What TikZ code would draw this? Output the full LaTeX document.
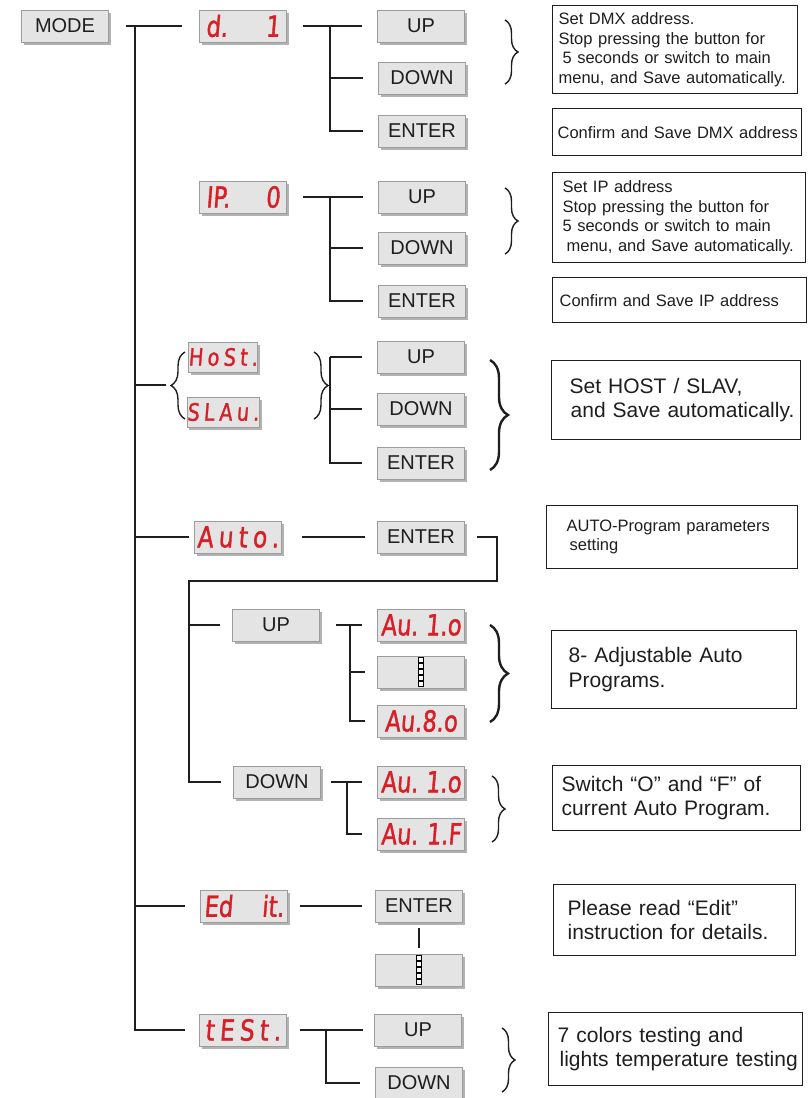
\documentclass[tikz,border=0pt]{standalone}
\usepackage{fontspec}
\setmainfont{Liberation Sans}
\newfontfamily\segfont[FakeStretch=0.78,FakeSlant=0.08,FakeBold=1.2]{DejaVu Sans}
\newfontfamily\segwide[FakeStretch=0.8,FakeSlant=0.08,FakeBold=1.2,LetterSpace=18]{DejaVu Sans}
\usetikzlibrary{shadows,decorations.pathreplacing}
\definecolor{btnfill}{HTML}{E4E4E4}
\definecolor{btnedge}{HTML}{9C9C9C}
\definecolor{segred}{HTML}{D61F26}
\definecolor{ink}{HTML}{1E1E1E}
\newcommand\lmar[1]{\hspace*{#1}}
\begin{document}
\begin{tikzpicture}[x=1pt,y=-1pt,
 btn/.style={draw=btnedge, line width=0.8pt, fill=btnfill, minimum width=87pt, minimum height=32pt, inner sep=0pt, text=ink, font=\fontsize{20}{24}\selectfont, drop shadow={shadow xshift=2.5pt, shadow yshift=-2.5pt, fill=black, opacity=0.3}},
 disp/.style={btn, text=segred, font=\segfont\fontsize{29}{30}\selectfont},
 dispw/.style={disp, font=\segwide\fontsize{29}{30}\selectfont},
 hsdisp/.style={disp, minimum width=67pt, minimum height=30pt, font=\segwide\fontsize{24}{26}\selectfont},
 conn/.style={draw=ink, line width=1.4pt},
 brc/.style={draw=ink, line width=1.4pt, decorate, decoration={brace, amplitude=#1}},
 info/.style={draw=ink, line width=1.3pt, anchor=north west, inner xsep=0pt, inner ysep=0pt, align=left, text=ink},
 small/.style={font=\fontsize{16.5}{19.5}\selectfont},
 big/.style={font=\fontsize{21}{24.5}\selectfont},
 dotsq/.style={draw=black, line width=0.9pt, fill=white, minimum size=5.2pt, inner sep=0pt}
]
\useasboundingbox (0,0) rectangle (807,1098);

% ---------- nodes ----------
\node[btn] (mode) at (65,26) {MODE};

\node[disp] (d1) at (243,26) {\makebox[74pt]{d.\hfill1}};
\node[btn] (d1up) at (421,26) {UP};
\node[btn] (d1down) at (422,78) {DOWN};
\node[btn] (d1enter) at (422,131) {ENTER};

\node[disp] (ip) at (243,197) {\makebox[74pt]{IP.\hfill0}};
\node[btn] (ipup) at (422,197) {UP};
\node[btn] (ipdown) at (422,248) {DOWN};
\node[btn] (ipenter) at (422,301) {ENTER};

\node[hsdisp] (host) at (223,357) {HoSt.};
\node[hsdisp] (slav) at (223,412) {SLAu.};
\node[btn] (hsup) at (421,357) {UP};
\node[btn] (hsdown) at (421,409) {DOWN};
\node[btn] (hsenter) at (421,463) {ENTER};

\node[dispw] (auto) at (238,537) {Auto.};
\node[btn] (autoenter) at (421,537) {ENTER};

\node[btn] (aup) at (276,625) {UP};
\node[btn] (adown) at (277,782) {DOWN};

\node[disp] (au1o) at (421,625) {\makebox[80pt]{Au.\hfill1.o}};
\node[btn] (audots) at (421,672) {};
\node[disp] (au8o) at (421,721) {Au.8.o};

\node[disp] (bu1o) at (421,782) {\makebox[80pt]{Au.\hfill1.o}};
\node[disp] (bu1f) at (421,834) {\makebox[80pt]{Au.\hfill1.F}};

\node[disp] (edit) at (244,906) {\makebox[80pt]{Ed\hfill it.}};
\node[btn] (editenter) at (419,906) {ENTER};
\node[btn] (editdots) at (419,970) {};

\node[dispw] (test) at (243,1030) {tESt.};
\node[btn] (testup) at (418,1030) {UP};
\node[btn] (testdown) at (419,1083) {DOWN};

% dot columns in the blank displays
\foreach \k in {-2,...,2} {
  \node[dotsq] (da\k) at ([yshift=\k*6pt]audots.center) {};
  \node[dotsq] (de\k) at ([yshift=\k*6pt]editdots.center) {};
}

% ---------- info boxes ----------
\node[info, small, text width=245pt, minimum height=88pt] (info1) at (552,5)
 {\lmar{6pt}Set DMX address.\\\lmar{6pt}Stop pressing the button for\\\lmar{10pt}5 seconds or switch to main\\\lmar{6pt}menu, and Save automatically.};
\node[info, small, text width=249pt, minimum height=47pt] (info2) at (552,108)
 {\lmar{5pt}Confirm and Save DMX address};
\node[info, small, text width=253pt, minimum height=90pt] (info3) at (552,172)
 {\lmar{10pt}Set IP address\\\lmar{10pt}Stop pressing the button for\\\lmar{10pt}5 seconds or switch to main\\\lmar{14pt}menu, and Save automatically.};
\node[info, small, text width=254pt, minimum height=45pt] (info4) at (552,277)
 {\lmar{7pt}Confirm and Save IP address};
\node[info, big, text width=249pt, minimum height=79pt] (info5) at (551,360)
 {\lmar{18pt}Set HOST / SLAV,\\\lmar{19pt}and Save automatically.};
\node[info, small, text width=251pt, minimum height=63pt] (info6) at (546,505)
 {\lmar{20pt}AUTO-Program parameters\\\lmar{23pt}setting};
\node[info, big, text width=245pt, minimum height=78pt] (info7) at (551,630)
 {\lmar{17pt}8- Adjustable Auto\\\lmar{17pt}Programs.};
\node[info, big, text width=248pt, minimum height=65pt] (info8) at (552,765)
 {\lmar{9pt}Switch “O” and “F” of\\\lmar{9pt}current Auto Program.};
\node[info, big, text width=242pt, minimum height=71pt] (info9) at (553,884)
 {\lmar{14pt}Please read “Edit”\\\lmar{14pt}instruction for details.};
\node[info, big, text width=254pt, minimum height=73pt] (info10) at (548,1012)
 {\lmar{9pt}7 colors testing and\\\lmar{11pt}lights temperature testing};

% ---------- main trunk ----------
\coordinate (trtop) at (135,26);
\coordinate (hsL) at (166,385);
\draw[conn] ([xshift=17pt]mode.east) -- ([xshift=-17pt]d1.west);
\draw[conn] (trtop) |- ([xshift=-14pt]test.west);
\draw[conn] (trtop |- hsL) -- (hsL);
\draw[conn] (trtop |- auto) -- ([xshift=-5pt]auto.west);
\draw[conn] (trtop |- edit) -- ([xshift=-15pt]edit.west);

% ---------- d. 1 ----------
\coordinate (d1v) at (330,26);
\draw[conn] ([xshift=16pt]d1.east) -- ([xshift=-15pt]d1up.west);
\draw[conn] (d1v) |- ([xshift=-15pt]d1enter.west);
\draw[conn] (d1v |- d1down) -- ([xshift=-15pt]d1down.west);

% ---------- IP. 0 ----------
\coordinate (ipv) at (330,197);
\draw[conn] ([xshift=16pt]ip.east) -- ([xshift=-15pt]ipup.west);
\draw[conn] (ipv) |- ([xshift=-15pt]ipenter.west);
\draw[conn] (ipv |- ipdown) -- ([xshift=-15pt]ipdown.west);

% ---------- HoSt / SLAu ----------
\draw[brc=14pt] (185,419) -- (185,352);
\draw[brc=14pt] (314,352) -- (314,419);
\coordinate (hsv) at (330,357);
\draw[conn] (hsv) -- ([xshift=-15pt]hsup.west);
\draw[conn] (hsv) |- ([xshift=-15pt]hsenter.west);
\draw[conn] (hsv |- hsdown) -- ([xshift=-15pt]hsdown.west);

% ---------- Auto ----------
\coordinate (aturn) at (497,581);
\coordinate (av) at (189,581);
\draw[conn] ([xshift=20pt]auto.east) -- ([xshift=-12pt]autoenter.west);
\draw[conn] ([xshift=12pt]autoenter.east) -| (aturn) -- (av) |- ([xshift=-12pt]adown.west);
\draw[conn] (av |- aup) -- ([xshift=-12pt]aup.west);

\coordinate (auv) at (350,625);
\draw[conn] ([xshift=16pt]aup.east) -- ([xshift=-15pt]au1o.west);
\draw[conn] (auv) |- ([xshift=-12pt]au8o.west);
\draw[conn] (auv |- audots) -- ([xshift=-12pt]audots.west);

\coordinate (bdv) at (347,782);
\draw[conn] ([xshift=10pt]adown.east) -- ([xshift=-15pt]bu1o.west);
\draw[conn] (bdv) |- ([xshift=-15pt]bu1f.west);

% ---------- Edit ----------
\draw[conn] ([xshift=12pt]edit.east) -- ([xshift=-13pt]editenter.west);
\draw[conn] ([yshift=-6pt]editenter.south) -- ([yshift=6pt]editdots.north);

% ---------- tESt ----------
\coordinate (tv) at (326,1030);
\draw[conn] ([xshift=13pt]test.east) -- ([xshift=-11pt]testup.west);
\draw[conn] (tv) |- ([xshift=-15pt]testdown.west);

% ---------- braces ----------
\draw[brc=13pt] (505,20) -- (505,84);
\draw[brc=13pt] (505,188) -- (505,254);
\draw[brc=18pt, line width=2.4pt] (490,360) -- (490,470);
\draw[brc=18pt, line width=2.4pt] (490,625) -- (490,722);
\draw[brc=13pt] (492,776) -- (492,842);
\draw[brc=13pt] (502,1028) -- (502,1092);
\end{tikzpicture}
\end{document}
